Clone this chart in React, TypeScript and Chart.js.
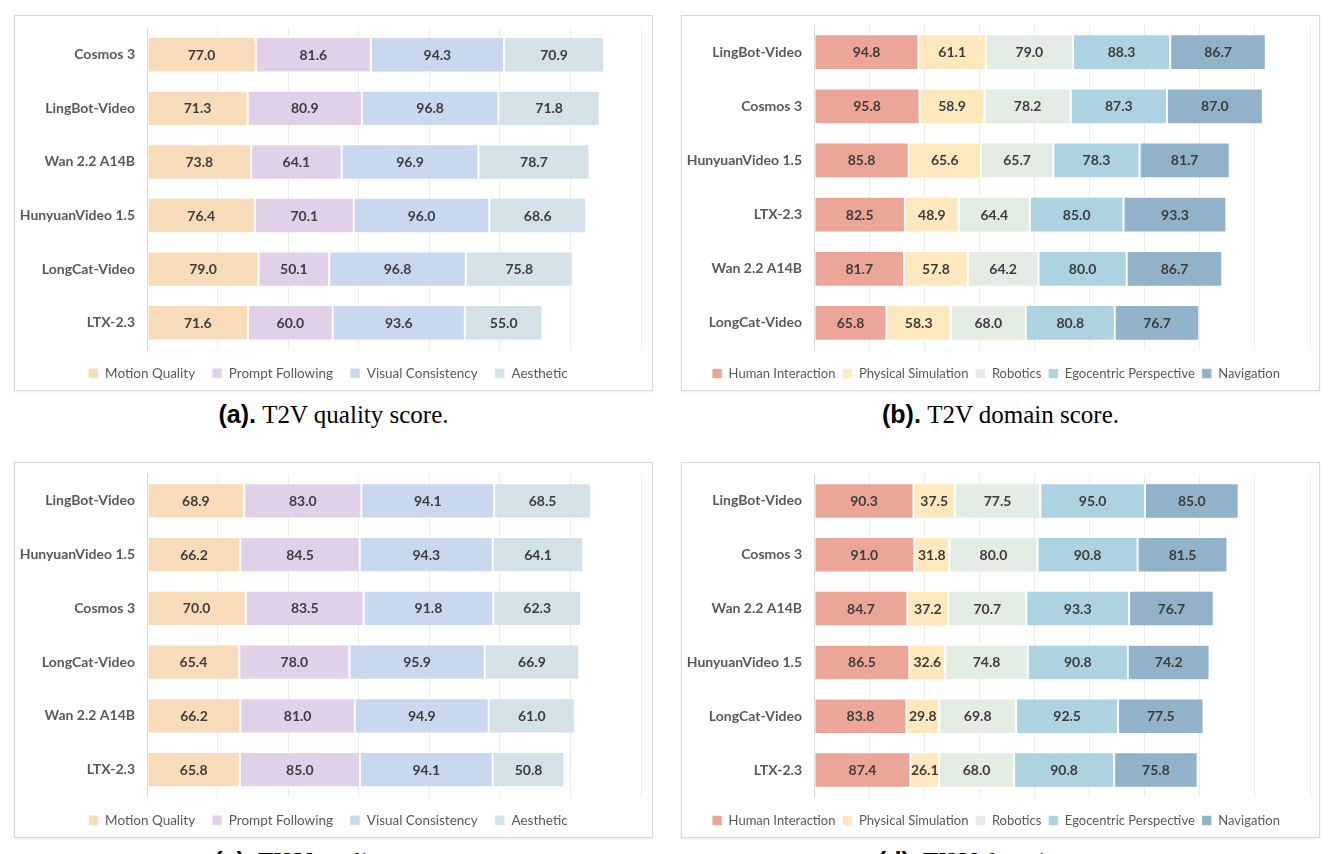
import React, { useEffect, useRef } from "react";
import { Chart, registerables } from "chart.js";

Chart.register(...registerables);

// ---------- legends & colours ----------
const qualityNames = ["Motion Quality", "Prompt Following", "Visual Consistency", "Aesthetic"];
const qualityColors = ["#F8DCBA", "#E0D0E8", "#C9D8EE", "#D3E2E8"];
const domainNames = ["Human Interaction", "Physical Simulation", "Robotics", "Egocentric Perspective", "Navigation"];
const domainColors = ["#ECA698", "#FFE8BE", "#E2ECE2", "#ADD3E1", "#91B2C8"];

// ---------- (a) T2V quality ----------
const t2vQualityModels = ["Cosmos 3", "LingBot-Video", "Wan 2.2 A14B", "HunyuanVideo 1.5", "LongCat-Video", "LTX-2.3"];
const t2vMotion = [77.0, 71.3, 73.8, 76.4, 79.0, 71.6];
const t2vPrompt = [81.6, 80.9, 64.1, 70.1, 50.1, 60.0];
const t2vVisual = [94.3, 96.8, 96.9, 96.0, 96.8, 93.6];
const t2vAesthetic = [70.9, 71.8, 78.7, 68.6, 75.8, 55.0];

// ---------- (b) T2V domain ----------
const t2vDomainModels = ["LingBot-Video", "Cosmos 3", "HunyuanVideo 1.5", "LTX-2.3", "Wan 2.2 A14B", "LongCat-Video"];
const t2vHuman = [94.8, 95.8, 85.8, 82.5, 81.7, 65.8];
const t2vPhysical = [61.1, 58.9, 65.6, 48.9, 57.8, 58.3];
const t2vRobotics = [79.0, 78.2, 65.7, 64.4, 64.2, 68.0];
const t2vEgo = [88.3, 87.3, 78.3, 85.0, 80.0, 80.8];
const t2vNav = [86.7, 87.0, 81.7, 93.3, 86.7, 76.7];

// ---------- (c) TI2V quality ----------
const ti2vQualityModels = ["LingBot-Video", "HunyuanVideo 1.5", "Cosmos 3", "LongCat-Video", "Wan 2.2 A14B", "LTX-2.3"];
const ti2vMotion = [68.9, 66.2, 70.0, 65.4, 66.2, 65.8];
const ti2vPrompt = [83.0, 84.5, 83.5, 78.0, 81.0, 85.0];
const ti2vVisual = [94.1, 94.3, 91.8, 95.9, 94.9, 94.1];
const ti2vAesthetic = [68.5, 64.1, 62.3, 66.9, 61.0, 50.8];

// ---------- (d) TI2V domain ----------
const ti2vDomainModels = ["LingBot-Video", "Cosmos 3", "Wan 2.2 A14B", "HunyuanVideo 1.5", "LongCat-Video", "LTX-2.3"];
const ti2vHuman = [90.3, 91.0, 84.7, 86.5, 83.8, 87.4];
const ti2vPhysical = [37.5, 31.8, 37.2, 32.6, 29.8, 26.1];
const ti2vRobotics = [77.5, 80.0, 70.7, 74.8, 69.8, 68.0];
const ti2vEgo = [95.0, 90.8, 93.3, 90.8, 92.5, 90.8];
const ti2vNav = [85.0, 81.5, 76.7, 74.2, 77.5, 75.8];

const axisStep = 50;
const qualityMax = 350;
const domainMax = 450;

const valueLabels = {
  id: "valueLabels",
  afterDatasetsDraw(chart: any) {
    const ctx = chart.ctx;
    ctx.save();
    ctx.font = "bold 14px Lato";
    ctx.fillStyle = "#3d3d3d";
    ctx.textAlign = "center";
    ctx.textBaseline = "middle";
    chart.data.datasets.forEach((ds: any, i: number) => {
      const meta = chart.getDatasetMeta(i);
      meta.data.forEach((el: any, j: number) => {
        const p = el.getProps(["x", "y", "base"], true);
        ctx.fillText(Number(ds.data[j]).toFixed(1), (p.x + p.base) / 2, p.y + 0.5);
      });
    });
    ctx.restore();
  },
};

type PanelProps = {
  left: number;
  top: number;
  labels: string[];
  series: number[][];
  names: string[];
  colors: string[];
  max: number;
  padTop: number;
  padRight: number;
  legendPad: number;
  legendFont: number;
  gap: number;
  tag: string;
  caption: string;
};

const PANEL_W = 639;
const PANEL_H = 376;

function Panel(props: PanelProps) {
  const ref = useRef<HTMLCanvasElement | null>(null);
  useEffect(() => {
    if (!ref.current) return;
    const chart = new Chart(ref.current, {
      type: "bar",
      data: {
        labels: props.labels,
        datasets: props.series.map((d, i) => ({
          label: props.names[i],
          data: d,
          backgroundColor: props.colors[i],
          borderColor: "rgba(255,255,255,0.6)",
          borderWidth: 1,
          borderSkipped: false,
          barPercentage: 0.66,
          categoryPercentage: 1,
        })),
      },
      options: {
        indexAxis: "y",
        animation: false,
        responsive: false,
        maintainAspectRatio: false,
        layout: { padding: { top: props.padTop, right: props.padRight, bottom: 0, left: 0 } },
        scales: {
          x: {
            stacked: true,
            min: 0,
            max: props.max,
            ticks: { display: false, stepSize: axisStep },
            grid: { color: "#ececec", drawTicks: false },
            border: { display: false },
            afterFit: (s: any) => {
              s.height = props.gap;
            },
          },
          y: {
            stacked: true,
            grid: { display: false, drawTicks: false },
            border: { display: true, color: "#d9d9d9" },
            ticks: {
              font: { family: "Lato", weight: "bold", size: 14 },
              color: "#595959",
              padding: 12,
            },
            afterFit: (s: any) => {
              s.width = 132;
              s.paddingTop = 0;
              s.paddingBottom = 0;
            },
          },
        },
        plugins: {
          tooltip: { enabled: false },
          legend: {
            position: "bottom",
            labels: {
              boxWidth: 10,
              boxHeight: 10,
              padding: props.legendPad,
              font: { family: "Lato", size: props.legendFont },
              color: "#595959",
            },
          },
        },
      },
      plugins: [valueLabels],
    } as any);
    return () => chart.destroy();
  }, []);

  return (
    <>
      <div
        style={{
          position: "absolute",
          left: props.left,
          top: props.top,
          width: PANEL_W - 2,
          height: PANEL_H - 2,
          border: "1px solid #d9d9d9",
          boxShadow: "0 1px 2px rgba(0,0,0,0.08)",
          background: "#fff",
        }}
      >
        <canvas ref={ref} width={PANEL_W - 2} height={PANEL_H - 2} style={{ display: "block" }} />
      </div>
      <div
        style={{
          position: "absolute",
          left: props.left,
          top: props.top + PANEL_H + 10,
          width: PANEL_W,
          textAlign: "center",
          fontSize: 25,
          lineHeight: "26px",
          color: "#000",
          whiteSpace: "nowrap",
        }}
      >
        <span style={{ fontFamily: "'Liberation Sans', Arial, sans-serif", fontWeight: "bold" }}>{props.tag}</span>{" "}
        <span style={{ fontFamily: "'Liberation Serif', 'Times New Roman', serif" }}>{props.caption}</span>
      </div>
    </>
  );
}

export default function App() {
  return (
    <div
      style={{
        position: "absolute",
        left: 0,
        top: 0,
        width: 1336,
        height: 854,
        overflow: "hidden",
        background: "#fff",
      }}
    >
      <Panel
        left={14}
        top={15}
        labels={t2vQualityModels}
        series={[t2vMotion, t2vPrompt, t2vVisual, t2vAesthetic]}
        names={qualityNames}
        colors={qualityColors}
        max={qualityMax}
        padTop={12}
        padRight={11}
        legendPad={17}
        legendFont={13.5}
        gap={0}
        tag="(a)."
        caption="T2V quality score."
      />
      <Panel
        left={681}
        top={15}
        labels={t2vDomainModels}
        series={[t2vHuman, t2vPhysical, t2vRobotics, t2vEgo, t2vNav]}
        names={domainNames}
        colors={domainColors}
        max={domainMax}
        padTop={9}
        padRight={9}
        legendPad={7}
        legendFont={13}
        gap={10}
        tag="(b)."
        caption="T2V domain score."
      />
      <Panel
        left={14}
        top={462}
        labels={ti2vQualityModels}
        series={[ti2vMotion, ti2vPrompt, ti2vVisual, ti2vAesthetic]}
        names={qualityNames}
        colors={qualityColors}
        max={qualityMax}
        padTop={11}
        padRight={11}
        legendPad={17}
        legendFont={13.5}
        gap={0}
        tag="(c)."
        caption="TI2V quality score."
      />
      <Panel
        left={681}
        top={462}
        labels={ti2vDomainModels}
        series={[ti2vHuman, ti2vPhysical, ti2vRobotics, ti2vEgo, ti2vNav]}
        names={domainNames}
        colors={domainColors}
        max={domainMax}
        padTop={11}
        padRight={9}
        legendPad={7}
        legendFont={13}
        gap={10}
        tag="(d)."
        caption="TI2V domain score."
      />
    </div>
  );
}
